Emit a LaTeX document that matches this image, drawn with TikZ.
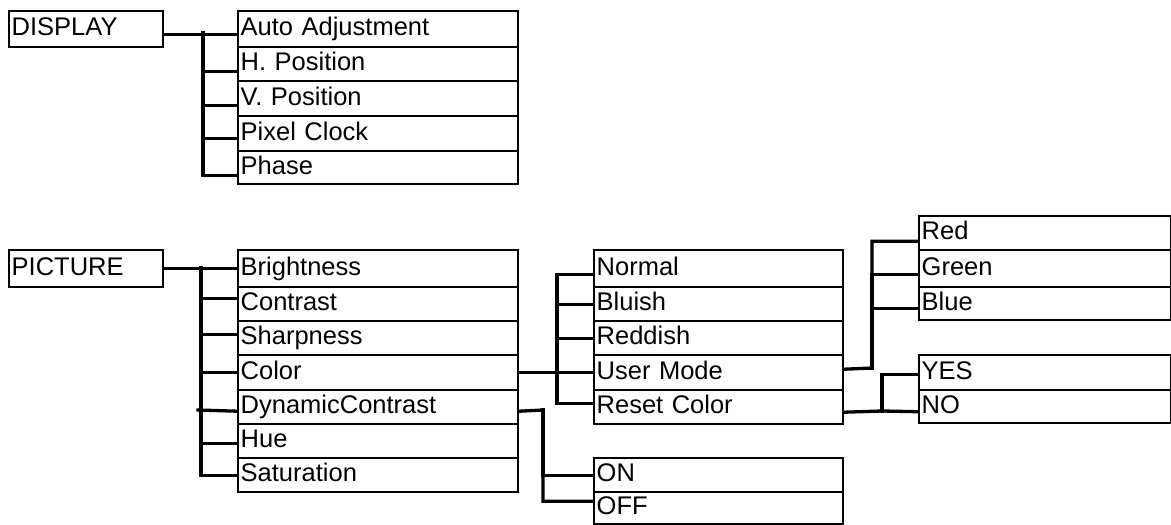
\documentclass[tikz,border=0pt]{standalone}
\usepackage{fontspec}
\setmainfont{Liberation Sans}
\begin{document}
\begin{tikzpicture}[x=1pt,y=-1pt,
  item/.style={draw, line width=2.4pt, inner xsep=2.5pt, inner ysep=0pt,
    text height=18pt, text depth=5pt, anchor=north west, align=left,
    font=\fontsize{25.5}{30}\selectfont},
  conn/.style={line width=3.3pt, line cap=rect}]
\useasboundingbox (0,0) rectangle (1171,525);
% DISPLAY
\node[item, text width=149pt, minimum height=36pt] (display) at (8,10) {DISPLAY};
\node[item, text width=275pt, minimum height=36pt] (auto) at (237,10) {Auto Adjustment};
\node[item, text width=275pt, minimum height=34pt] (hpos) at (237,46) {H. Position};
\node[item, text width=275pt, minimum height=35pt] (vpos) at (237,80) {V. Position};
\node[item, text width=275pt, minimum height=35pt] (pclk) at (237,115) {Pixel Clock};
\node[item, text width=275pt, minimum height=33pt] (phase) at (237,150) {Phase};
% PICTURE
\node[item, text width=149pt, minimum height=37pt] (picture) at (8,249) {PICTURE};
\node[item, text width=275pt, minimum height=37pt] (bright) at (237,249) {Brightness};
\node[item, text width=275pt, minimum height=34pt] (contrast) at (237,286) {Contrast};
\node[item, text width=275pt, minimum height=34pt] (sharp) at (237,320) {Sharpness};
\node[item, text width=275pt, minimum height=35pt] (color) at (237,354) {Color};
\node[item, text width=275pt, minimum height=34pt] (dyn) at (237,389) {DynamicContrast};
\node[item, text width=275pt, minimum height=34pt] (hue) at (237,423) {Hue};
\node[item, text width=275pt, minimum height=34pt] (sat) at (237,457) {Saturation};
% Color submenu
\node[item, text width=244pt, minimum height=37pt] (normal) at (593,249) {Normal};
\node[item, text width=244pt, minimum height=34pt] (bluish) at (593,286) {Bluish};
\node[item, text width=244pt, minimum height=34pt] (reddish) at (593,320) {Reddish};
\node[item, text width=244pt, minimum height=35pt] (umode) at (593,354) {User Mode};
\node[item, text width=244pt, minimum height=34pt] (reset) at (593,389) {Reset Color};
% ON / OFF
\node[item, text width=244pt, minimum height=34pt] (on) at (593,457) {ON};
\node[item, text width=244pt, minimum height=32pt] (off) at (593,491) {OFF};
% RGB
\node[item, text width=247pt, minimum height=34pt] (red) at (918,215) {Red};
\node[item, text width=247pt, minimum height=37pt] (green) at (918,249) {Green};
\node[item, text width=247pt, minimum height=33pt] (blue) at (918,286) {Blue};
% YES / NO
\node[item, text width=247pt, minimum height=35pt] (yes) at (918,354) {YES};
\node[item, text width=247pt, minimum height=33pt] (no) at (918,389) {NO};
% trunk coordinates
\coordinate (dk) at (203,33);
\coordinate (pk) at (201,267.5);
\coordinate (pdk) at (198,410);
\coordinate (ck) at (557,371.5);
\coordinate (dyk) at (543,410);
\coordinate (uk) at (872,368);
\coordinate (rk) at (882,411);
% DISPLAY connectors
\draw[conn] ([yshift=-5pt]display.east) -- ([yshift=-5pt]auto.west);
\draw[conn] (dk) |- ([yshift=-7pt]hpos.west);
\draw[conn] (dk) |- ([yshift=-6.5pt]vpos.west);
\draw[conn] (dk) |- ([yshift=-4.5pt]pclk.west);
\draw[conn] (dk) |- ([yshift=-7.5pt]phase.west);
% PICTURE connectors
\draw[conn] (picture.east) -- (bright.west);
\draw[conn] (pk) |- ([yshift=6pt]contrast.west);
\draw[conn] (pk) |- ([yshift=4pt]sharp.west);
\draw[conn] (pk) |- (color.west);
\draw[conn] (pk) |- ([yshift=-2pt]hue.west);
\draw[conn] (pk) |- (sat.west);
\draw[conn] (pdk) -- ([yshift=-4pt]dyn.west);
% Color submenu
\draw[conn] (color.east) -- (umode.west);
\draw[conn] (ck) |- ([yshift=-5.5pt]normal.west);
\draw[conn] (ck) |- (bluish.west);
\draw[conn] (ck) |- (reddish.west);
\draw[conn] (ck) |- ([yshift=4pt]reset.west);
% Dynamic contrast
\draw[conn] ([yshift=-4pt]dyn.east) -- (dyk) |- ([yshift=7pt]off.west);
\draw[conn] (dyk) |- (on.west);
% User mode
\draw[conn] ([yshift=3.5pt]umode.east) -- (uk) |- ([yshift=-8pt]red.west);
\draw[conn] (uk) |- ([yshift=-5.5pt]green.west);
\draw[conn] (uk) |- ([yshift=-4.5pt]blue.west);
% Reset color
\draw[conn] ([yshift=-5pt]reset.east) -- (rk) -- ([yshift=-5pt]no.west);
\draw[conn] (rk) |- ([yshift=-1.5pt]yes.west);
\end{tikzpicture}
\end{document}
